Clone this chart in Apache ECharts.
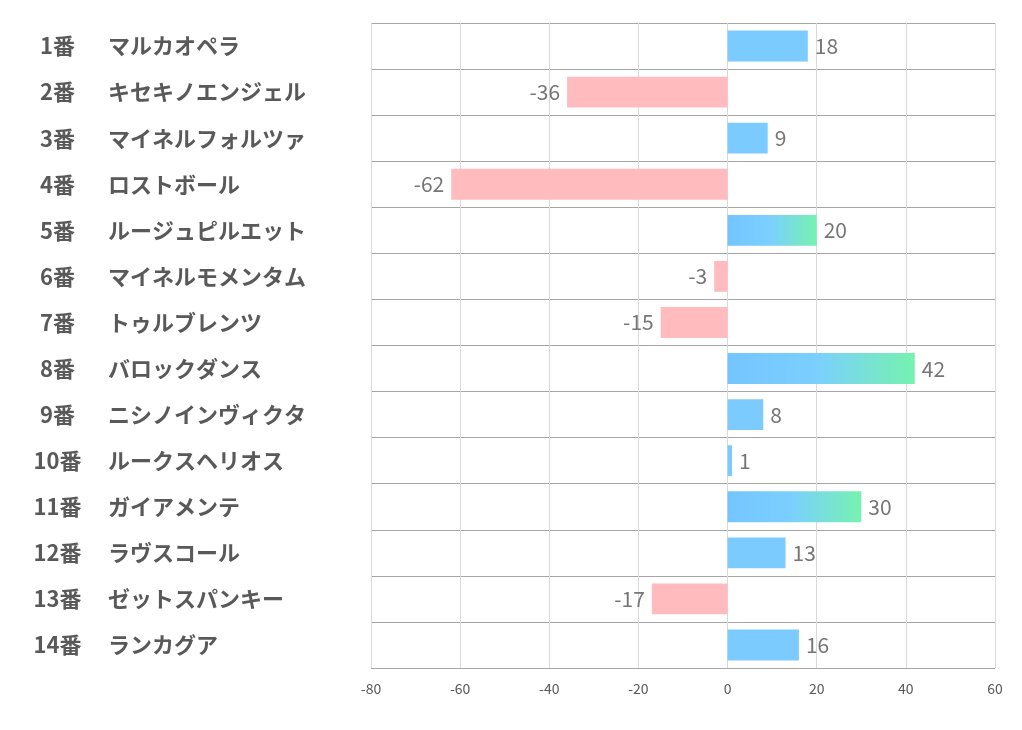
<!DOCTYPE html>
<html>
<head>
<meta charset="utf-8">
<script src="https://cdn.jsdelivr.net/npm/echarts@6/dist/echarts.min.js"></script>
<style>html,body{margin:0;padding:0;background:#fff;}#c{width:1022px;height:730px;}</style>
</head>
<body>
<div id="c"></div>
<script>
const numbers = ['1番','2番','3番','4番','5番','6番','7番','8番','9番','10番','11番','12番','13番','14番'];
const names = ['マルカオペラ','キセキノエンジェル','マイネルフォルツァ','ロストボール','ルージュピルエット','マイネルモメンタム','トゥルブレンツ','バロックダンス','ニシノインヴィクタ','ルークスヘリオス','ガイアメンテ','ラヴスコール','ゼットスパンキー','ランカグア'];
const values = [18, -36, 9, -62, 20, -3, -15, 42, 8, 1, 30, 13, -17, 16];
const xTicks = [-80, -60, -40, -20, 0, 20, 40, 60];

const FONT = '"Noto Sans CJK JP", "Noto Sans", sans-serif';
const categories = numbers.map((n, i) => n + '|' + names[i]);

const gradient = {
  type: 'linear', x: 0, y: 0, x2: 1, y2: 0,
  colorStops: [
    {offset: 0, color: '#74c5ff'},
    {offset: 0.47, color: '#7bcfff'},
    {offset: 1, color: '#76f2b0'}
  ]
};

const data = values.map(v => ({
  value: v,
  itemStyle: { color: v < 0 ? '#ffbbbe' : (v >= 20 ? gradient : '#7ccbff') },
  label: { position: v < 0 ? 'left' : 'right' }
}));

const chart = echarts.init(document.getElementById('c'));
chart.setOption({
  animation: false,
  backgroundColor: '#ffffff',
  grid: { left: 371, right: 27, top: 23, bottom: 62, containLabel: false },
  xAxis: {
    type: 'value', min: xTicks[0], max: xTicks[xTicks.length - 1], interval: 20,
    axisLine: { show: false }, axisTick: { show: false },
    splitLine: { show: true, lineStyle: { color: '#d9d9d9', width: 1 } },
    axisLabel: { color: '#595959', fontSize: 14, fontFamily: FONT, margin: 14 }
  },
  yAxis: {
    type: 'category', data: categories, inverse: true,
    axisLine: { show: false }, axisTick: { show: false },
    splitLine: { show: true, lineStyle: { color: '#a6a6a6', width: 1 } },
    axisLabel: {
      align: 'left', margin: 349,
      formatter: function (v) {
        const p = v.split('|');
        return '{n|' + p[0] + '}{s|' + p[1] + '}';
      },
      rich: {
        n: { width: 71, align: 'right', fontSize: 22, fontWeight: 'bold', color: '#595959', fontFamily: FONT },
        s: { padding: [0, 0, 0, 15], fontSize: 22, fontWeight: 'bold', color: '#595959', fontFamily: FONT }
      }
    }
  },
  series: [{
    type: 'bar', data: data, barWidth: '67%',
    label: { show: true, distance: 7, color: '#767676', fontSize: 21, fontFamily: FONT }
  }]
});
</script>
</body>
</html>
